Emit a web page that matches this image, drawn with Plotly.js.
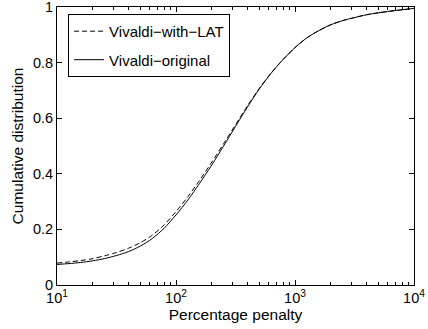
<!DOCTYPE html>
<html>
<head>
<meta charset="utf-8">
<script src="https://cdn.plot.ly/plotly-3.0.1.min.js"></script>
<style>
html,body{margin:0;padding:0;background:#fff;}
#chart{width:428px;height:329px;}
</style>
</head>
<body>
<div id="chart"></div>
<script>
// Percentage penalty (x, log scale)
const penalty = [10, 12.6, 15.8, 20, 25.1, 31.6, 39.8, 50.1, 63.1, 79.4,
  100, 126, 158, 200, 251, 316, 398, 501, 631, 794,
  1000, 1259, 1585, 1995, 2512, 3162, 3981, 5012, 6310, 7943, 10000];
// Cumulative distribution values
const cdfWithLAT = [0.079, 0.083, 0.088, 0.095, 0.105, 0.117, 0.132, 0.152, 0.179, 0.216,
  0.264, 0.318, 0.377, 0.442, 0.508, 0.576, 0.644, 0.707, 0.763, 0.811,
  0.854, 0.889, 0.915, 0.936, 0.951, 0.962, 0.972, 0.979, 0.985, 0.990, 0.995];
const cdfOriginal = [0.074, 0.077, 0.081, 0.087, 0.095, 0.106, 0.120, 0.140, 0.167, 0.204,
  0.252, 0.306, 0.366, 0.432, 0.500, 0.570, 0.640, 0.705, 0.762, 0.811,
  0.854, 0.889, 0.915, 0.936, 0.951, 0.962, 0.972, 0.979, 0.985, 0.990, 0.995];
const seriesNames = ['Vivaldi\u2212with\u2212LAT', 'Vivaldi\u2212original'];
const xTickVals = [10, 100, 1000, 10000];
const xTickText = ['10<sup>1</sup>', '10<sup>2</sup>', '10<sup>3</sup>', '10<sup>4</sup>'];
const xMinorVals = [20,30,40,50,60,70,80,90,200,300,400,500,600,700,800,900,2000,3000,4000,5000,6000,7000,8000,9000];
const yTickVals = [0, 0.2, 0.4, 0.6, 0.8, 1];
const yTickText = ['0', '0.2', '0.4', '0.6', '0.8', '1'];

const font = 'Liberation Sans, Arial, Helvetica, sans-serif';

const traces = [
  {x: penalty, y: cdfWithLAT, name: seriesNames[0], mode: 'lines', legendgroup: 'a',
   line: {color: '#000', width: 1, dash: '5px,3px', shape: 'spline', smoothing: 0.8}},
  {x: penalty, y: cdfOriginal, name: seriesNames[1], mode: 'lines', legendgroup: 'b',
   line: {color: '#000', width: 1, shape: 'spline', smoothing: 0.8}}
];

const layout = {
  width: 428, height: 329,
  margin: {l: 57, r: 14, t: 7, b: 44, pad: 0},
  paper_bgcolor: '#fff', plot_bgcolor: '#fff',
  font: {family: font, size: 14, color: '#000'},
  showlegend: true,
  legend: {x: 0.031, y: 0.975, xanchor: 'left', yanchor: 'top',
    bgcolor: '#fff', bordercolor: '#000', borderwidth: 1,
    font: {family: font, size: 15, color: '#000'},
    traceorder: 'grouped', tracegroupgap: 6},
  xaxis: {
    type: 'log', range: [1, 4],
    tickmode: 'array', tickvals: xTickVals, ticktext: xTickText,
    ticks: 'inside', ticklen: 5, tickwidth: 1, tickcolor: '#000',
    minor: {tickmode: 'array', tickvals: xMinorVals, ticks: 'inside', ticklen: 3, tickcolor: '#000', showgrid: false},
    showline: true, linecolor: '#000', linewidth: 1, mirror: 'ticks',
    showgrid: false, zeroline: false, ticklabeloverflow: 'allow',
    tickfont: {family: font, size: 14.5, color: '#000'},
    title: {text: 'Percentage penalty', font: {family: font, size: 15.5, color: '#000'}, standoff: 1}
  },
  yaxis: {
    range: [0, 1],
    tickmode: 'array', tickvals: yTickVals, ticktext: yTickText,
    ticks: 'inside', ticklen: 5, tickwidth: 1, tickcolor: '#000',
    showline: true, linecolor: '#000', linewidth: 1, mirror: 'ticks',
    showgrid: false, zeroline: false, ticklabeloverflow: 'allow',
    tickfont: {family: font, size: 14.5, color: '#000'},
    title: {text: 'Cumulative distribution', font: {family: font, size: 15.5, color: '#000'}, standoff: 5}
  }
};

Plotly.newPlot('chart', traces, layout, {staticPlot: true, displayModeBar: false});
</script>
</body>
</html>
